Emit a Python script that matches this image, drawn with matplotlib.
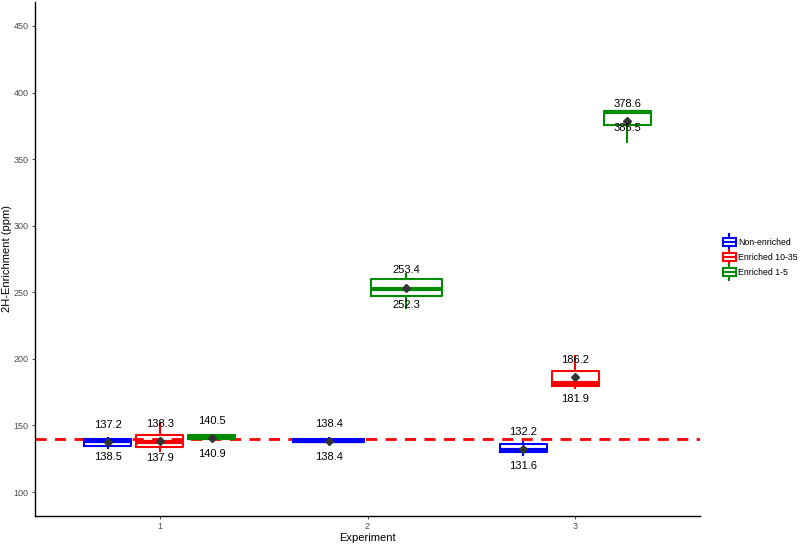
import numpy as np
import matplotlib.pyplot as plt
from matplotlib.legend_handler import HandlerBase
from matplotlib.patches import Rectangle
from matplotlib.lines import Line2D

plt.rcParams['font.family'] = ['Liberation Sans', 'DejaVu Sans']

# data
experiments = [1, 1, 1, 2, 2, 3, 3, 3]
groups = ['Non-enriched', 'Enriched 10-35', 'Enriched 1-5',
          'Non-enriched', 'Enriched 1-5',
          'Non-enriched', 'Enriched 10-35', 'Enriched 1-5']
q1 = [134.4, 133.7, 139.6, 137.4, 247.1, 129.7, 180.0, 376.0]
q3 = [139.8, 142.6, 142.6, 139.9, 259.8, 135.7, 190.7, 386.2]
medians = [138.5, 137.9, 140.9, 138.4, 252.3, 131.6, 181.9, 385.5]
means = [137.2, 138.3, 140.5, 138.4, 253.4, 132.2, 186.2, 378.6]
whis_lo = [133.0, 131.0, 139.0, 137.0, 238.5, 127.7, 178.0, 363.0]
whis_hi = [140.5, 151.6, 143.0, 140.5, 263.6, 137.4, 202.0, 386.2]
reference = 140

group_names = ['Non-enriched', 'Enriched 10-35', 'Enriched 1-5']
cores = {'Non-enriched': '#0000FF', 'Enriched 10-35': '#FF0000', 'Enriched 1-5': '#008B00'}

fig = plt.figure(figsize=(8, 5.44), dpi=100)
ax = fig.add_axes([35/800, 28/544, 665/800, 514/544])

# dodge positions like ggplot (total width 0.75)
posicoes = []
larguras = []
for i, exp in enumerate(experiments):
    membros = [k for k, e in enumerate(experiments) if e == exp]
    n = len(membros)
    slot = 0.75 / n
    j = membros.index(i)
    posicoes.append(exp + (j - (n - 1) / 2) * slot)
    larguras.append(0.9 * slot)

for i in range(len(experiments)):
    cor = cores[groups[i]]
    stats = [dict(med=medians[i], q1=q1[i], q3=q3[i], whislo=whis_lo[i],
                  whishi=whis_hi[i], mean=means[i], fliers=[])]
    ax.bxp(stats, positions=[posicoes[i]], widths=[larguras[i]], showcaps=False,
           showmeans=True, manage_ticks=False,
           boxprops=dict(color=cor, linewidth=1.5),
           whiskerprops=dict(color=cor, linewidth=1.5),
           medianprops=dict(color=cor, linewidth=3, solid_capstyle='butt'),
           meanprops=dict(marker='D', markerfacecolor='#333333',
                          markeredgecolor='#333333', markersize=4.5))
    ax.text(posicoes[i], means[i] + 13, f'{means[i]:.1f}', ha='center', va='center',
            fontsize=8, color='black')
    ax.text(posicoes[i], medians[i] - 12, f'{medians[i]:.1f}', ha='center', va='center',
            fontsize=8, color='black')

ax.axhline(reference, color='#FF0000', linestyle=(0, (4, 3)), linewidth=2, zorder=0.5)

ax.set_xlim(0.4, 3.6)
ax.set_ylim(82, 468)
ax.set_xticks([1, 2, 3])
ax.set_yticks([100, 150, 200, 250, 300, 350, 400, 450])
ax.tick_params(labelsize=6.5, colors='#4D4D4D', length=2.5, width=0.8, pad=2)
ax.set_xlabel('Experiment', fontsize=8, labelpad=1)
ax.set_ylabel('2H-Enrichment (ppm)', fontsize=8, labelpad=1.5)
for lado in ['top', 'right']:
    ax.spines[lado].set_visible(False)
for lado in ['left', 'bottom']:
    ax.spines[lado].set_linewidth(1.0)
    ax.spines[lado].set_color('black')


class HandlerCaixa(HandlerBase):
    def create_artists(self, legend, orig_handle, xdescent, ydescent, width, height, fontsize, trans):
        cor = orig_handle.get_color()
        cx = width / 2 - xdescent
        caixa = Rectangle((-xdescent + width * 0.1, -ydescent + height * 0.1), width * 0.8, height * 0.8,
                          facecolor='white', edgecolor=cor, linewidth=1.5, transform=trans)
        med = Line2D([-xdescent + width * 0.1, -xdescent + width * 0.9],
                     [-ydescent + height / 2] * 2, color=cor, linewidth=1.5, transform=trans)
        w1 = Line2D([cx, cx], [-ydescent - height * 0.2, -ydescent + height * 0.1], color=cor,
                    linewidth=1.5, transform=trans)
        w2 = Line2D([cx, cx], [-ydescent + height * 0.9, -ydescent + height * 1.2], color=cor,
                    linewidth=1.5, transform=trans)
        return [caixa, med, w1, w2]


handles = [Line2D([], [], color=cores[g]) for g in group_names]
fig.legend(handles, group_names, handler_map={Line2D: HandlerCaixa()},
           loc='center left', bbox_to_anchor=(717/800, 1 - 257/544), frameon=False,
           fontsize=6.3, handlelength=1.8, handleheight=1.5, handletextpad=0.1,
           labelspacing=0.5, borderpad=0)

fig.savefig('out.png', dpi=100)
